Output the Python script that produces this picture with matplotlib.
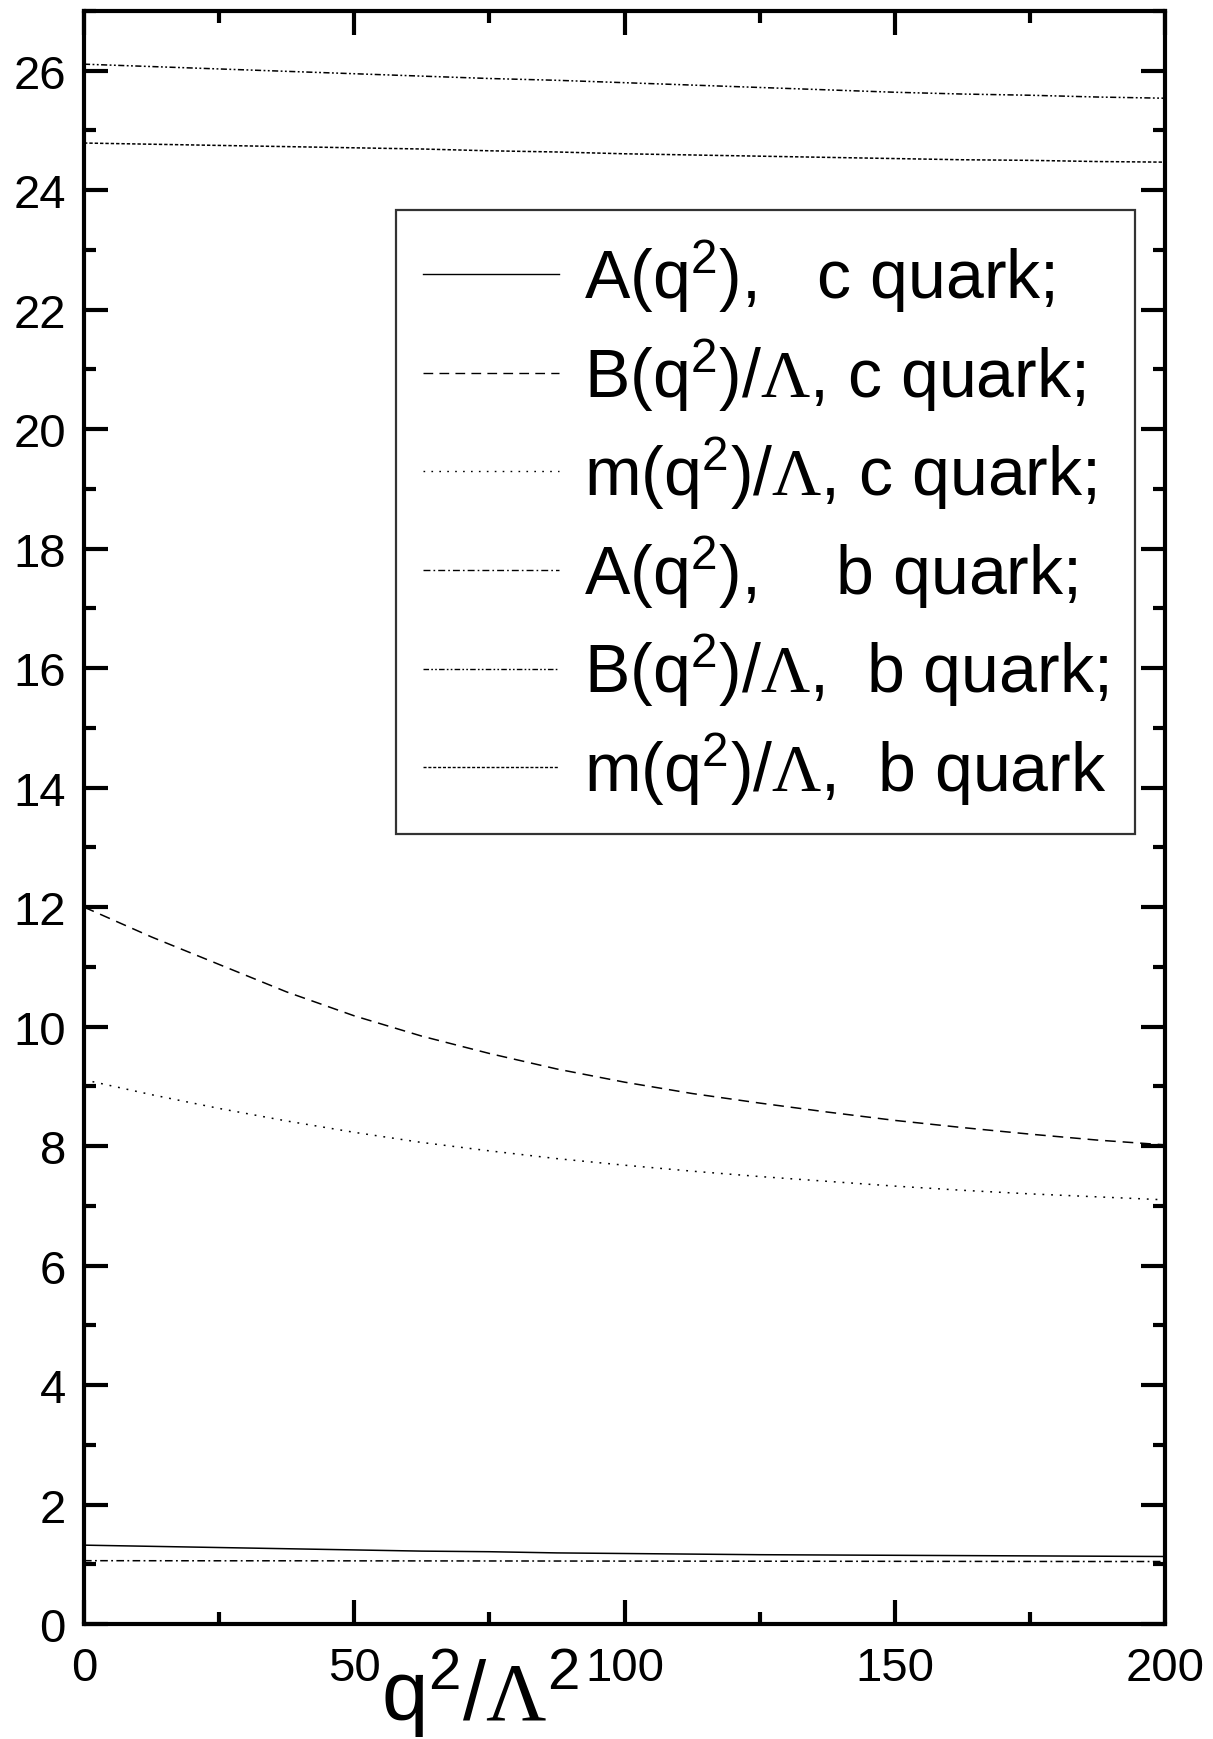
import matplotlib
matplotlib.use("Agg")
import matplotlib.pyplot as plt
from matplotlib.ticker import MultipleLocator

plt.rcParams['font.family'] = ['Liberation Sans', 'DejaVu Sans']
plt.rcParams['mathtext.fontset'] = 'custom'
plt.rcParams['mathtext.rm'] = 'Liberation Serif'
plt.rcParams['mathtext.it'] = 'Liberation Sans:italic'
plt.rcParams['mathtext.sf'] = 'Liberation Sans'
plt.rcParams['mathtext.bf'] = 'Liberation Sans:bold'

# ---- data ----
q2 = [0, 12.5, 25, 37.5, 50, 62.5, 75, 87.5, 100, 112.5, 125, 137.5, 150, 162.5, 175, 187.5, 200]

A_c = [1.32, 1.30, 1.28, 1.26, 1.24, 1.22, 1.21, 1.19, 1.18, 1.17, 1.16, 1.155, 1.15, 1.145, 1.14, 1.135, 1.13]
B_c = [12.0, 11.50, 11.04, 10.58, 10.18, 9.84, 9.55, 9.29, 9.07, 8.88, 8.72, 8.57, 8.43, 8.31, 8.20, 8.10, 8.02]
m_c = [9.11, 8.86, 8.63, 8.42, 8.23, 8.06, 7.92, 7.79, 7.68, 7.58, 7.49, 7.41, 7.33, 7.26, 7.20, 7.15, 7.10]

A_b = [1.060, 1.059, 1.058, 1.058, 1.057, 1.056, 1.055, 1.054, 1.053, 1.052, 1.051, 1.050, 1.049, 1.048, 1.047, 1.046, 1.046]
B_b = [26.11, 26.07, 26.03, 25.99, 25.95, 25.91, 25.87, 25.84, 25.80, 25.76, 25.72, 25.68, 25.64, 25.61, 25.59, 25.56, 25.54]
m_b = [24.79, 24.77, 24.75, 24.73, 24.71, 24.69, 24.66, 24.64, 24.61, 24.59, 24.57, 24.55, 24.53, 24.51, 24.50, 24.48, 24.47]

labels = [
    "A(q$^\\mathsf{2}$),   c quark;",
    "B(q$^\\mathsf{2}$)/$\\Lambda$, c quark;",
    "m(q$^\\mathsf{2}$)/$\\Lambda$, c quark;",
    "A(q$^\\mathsf{2}$),    b quark;",
    "B(q$^\\mathsf{2}$)/$\\Lambda$,  b quark;",
    "m(q$^\\mathsf{2}$)/$\\Lambda$,  b quark",
]
x_ticks = [0, 50, 100, 150, 200]
y_ticks = [0, 2, 4, 6, 8, 10, 12, 14, 16, 18, 20, 22, 24, 26]

fig = plt.figure(figsize=(12.13, 17.40), dpi=100)
ax = fig.add_axes([84/1213, 115/1740, (1165-84)/1213, (1625-12)/1740])

styles = [
    dict(ls='-'),
    dict(ls=(0, (7, 4.5))),
    dict(ls=(0, (1.2, 4.5))),
    dict(ls=(0, (5, 2.2, 1.2, 2.2))),
    dict(ls=(0, (4, 1.6, 1.2, 1.6, 1.2, 1.6))),
    dict(ls=(0, (2.2, 1.3))),
]
series = [A_c, B_c, m_c, A_b, B_b, m_b]
for s, st, lab in zip(series, styles, labels):
    ax.plot(q2, s, color='black', lw=1.1, label=lab, **st)

ax.set_xlim(0, 200)
ax.set_ylim(0, 27)
ax.set_xticks(x_ticks)
ax.set_yticks(y_ticks)
ax.xaxis.set_minor_locator(MultipleLocator(25))
ax.yaxis.set_minor_locator(MultipleLocator(1))
ax.tick_params(which='both', direction='in', top=True, right=True, width=3, labelsize=34)
ax.tick_params(which='major', length=17, pad=13)
ax.tick_params(which='minor', length=8.5)
ax.tick_params(axis='x', which='major', pad=16)
for sp in ax.spines.values():
    sp.set_linewidth(3)

ax.set_xlabel("q$^\\mathsf{2}$/$\\Lambda^\\mathsf{2}$", fontsize=60)
ax.xaxis.set_label_coords(0.366, -0.014)

leg = ax.legend(loc='upper left', bbox_to_anchor=(0.2886, 0.8766), borderaxespad=0,
                fontsize=49, handlelength=2.0, handletextpad=0.36, labelspacing=0.32,
                borderpad=0.4, frameon=True, fancybox=False, edgecolor='black')
leg.get_frame().set_linewidth(1.6)
for h in leg.get_lines():
    h.set_linewidth(1.0)

fig.savefig("out.png", dpi=100)
